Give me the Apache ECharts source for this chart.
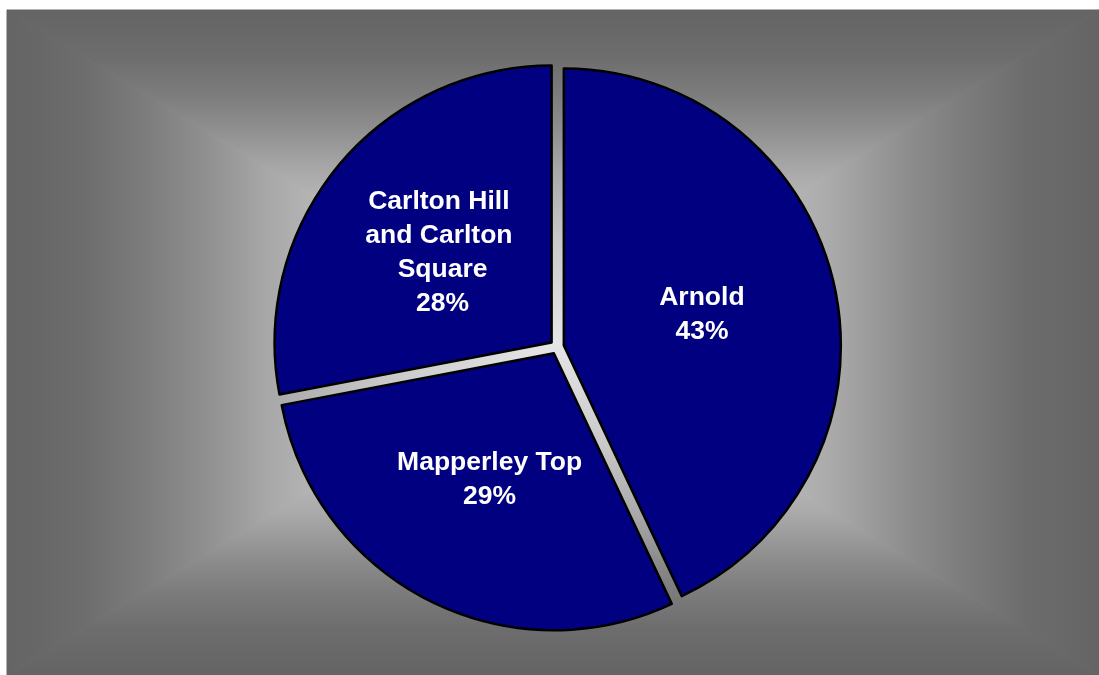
<!DOCTYPE html>
<html>
<head>
<meta charset="utf-8">
<script src="https://cdn.jsdelivr.net/npm/echarts@6/dist/echarts.min.js"></script>
<style>
  html, body { margin: 0; padding: 0; background: #fff; }
  #chart { width: 1099px; height: 675px; }
</style>
</head>
<body>
<div id="chart"></div>
<script>
// slice names and their shares (%)
var areas = ['Arnold', 'Mapperley Top', 'Carlton Hill and Carlton Square'];
var shares = [43, 29, 28];

// grey "from centre" rectangle background, built from 4 triangles
var bx0 = 7, by0 = 10, bx1 = 1099, by1 = 675;
var cx = (bx0 + bx1) / 2, cy = (by0 + by1) / 2;
var stops = [
  { offset: 0, color: '#e6e6e6' },
  { offset: 0.3, color: '#cacaca' },
  { offset: 0.52, color: '#a8a8a8' },
  { offset: 0.65, color: '#8d8d8d' },
  { offset: 0.75, color: '#7c7c7c' },
  { offset: 0.86, color: '#6d6d6d' },
  { offset: 1, color: '#646464' }
];
function tri(pts, x2, y2) {
  var grad = new echarts.graphic.LinearGradient(cx, cy, x2, y2, stops, true);
  return {
    type: 'polygon',
    silent: true,
    shape: { points: pts },
    style: { fill: grad, stroke: grad, lineWidth: 1 }
  };
}
var bg = [
  tri([[bx0, by0], [bx1, by0], [cx, cy]], cx, by0),
  tri([[bx1, by0], [bx1, by1], [cx, cy]], bx1, cy),
  tri([[bx1, by1], [bx0, by1], [cx, cy]], cx, by1),
  tri([[bx0, by1], [bx0, by0], [cx, cy]], bx0, cy)
];

var pieData = [];
for (var i = 0; i < areas.length; i++) {
  var item = { name: areas[i], value: shares[i], selected: true };
  if (areas[i].length > 20) {
    item.label = { width: 160, overflow: 'break', padding: [16, 0, 0, 0] };
  }
  pieData.push(item);
}

var myChart = echarts.init(document.getElementById('chart'));
var option = {
  animation: false,
  graphic: { elements: bg },
  series: [
    {
      type: 'pie',
      z: 10,
      center: [557, 347],
      radius: 277,
      startAngle: 90,
      clockwise: true,
      selectedMode: 'multiple',
      selectedOffset: 7,
      percentPrecision: 0,
      itemStyle: {
        color: '#000080',
        borderColor: '#000',
        borderWidth: 2.5
      },
      label: {
        show: true,
        position: 'inside',
        formatter: '{b}\n{d}%',
        color: '#fff',
        fontFamily: '"Liberation Sans", Arial, sans-serif',
        fontWeight: 'bold',
        fontSize: 26.5,
        lineHeight: 34,
        align: 'center'
      },
      labelLine: { show: false },
      emphasis: { disabled: true },
      data: pieData
    }
  ]
};
myChart.setOption(option);
</script>
</body>
</html>
